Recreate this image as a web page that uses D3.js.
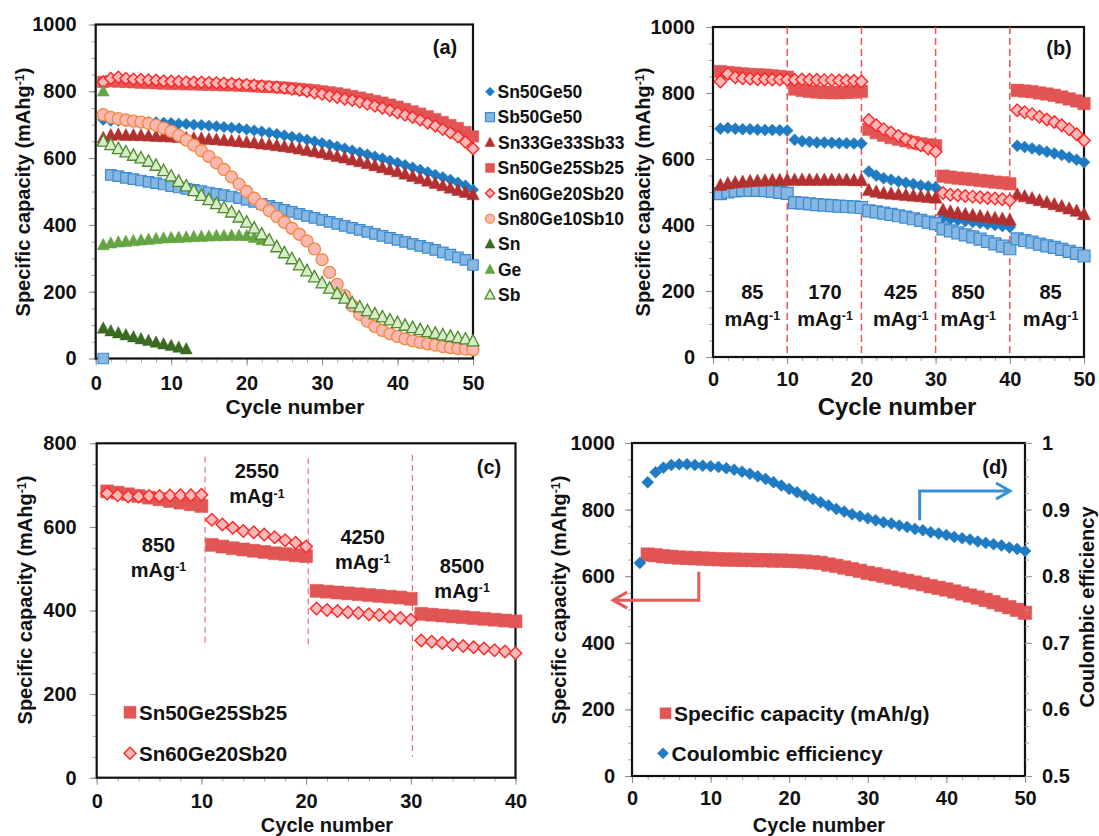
<!DOCTYPE html>
<html>
<head>
<meta charset="utf-8">
<script src="https://cdn.jsdelivr.net/npm/d3@7"></script>
<style>
  body { margin: 0; background: #fff; }
  svg text { font-family: Arial, "Liberation Sans", sans-serif; font-weight: bold; fill: #111; }
</style>
</head>
<body>
<svg id="fig" width="1099" height="836"></svg>
<script>
// ---------- data (index = cycle - 1) ----------
// panel (a): cycling at 85 mA/g
const a_Sn50Ge50 = [715, 712, 712, 711, 710, 709, 708, 707, 706, 705,
  703, 702, 700, 699, 697, 695, 693, 691, 689, 686,
  683, 680, 676, 672, 668, 664, 660, 655, 650, 645,
  640, 635, 629, 623, 617, 611, 605, 599, 592, 586,
  579, 572, 565, 558, 550, 543, 535, 527, 518, 505];
const a_Sb50Ge50 = [0, 550, 546, 541, 537, 533, 529, 525, 521, 516,
  512, 508, 505, 501, 497, 493, 489, 485, 480, 475,
  469, 463, 457, 451, 445, 439, 433, 427, 421, 415,
  409, 403, 397, 391, 385, 379, 373, 367, 361, 355,
  349, 343, 337, 331, 325, 318, 311, 303, 295, 280];
const a_Sn33Ge33Sb33 = [660, 668, 670, 668, 668, 667, 666, 665, 664, 663,
  662, 660, 659, 658, 656, 655, 653, 651, 649, 647,
  645, 642, 640, 637, 634, 631, 627, 623, 619, 615,
  610, 605, 600, 594, 589, 583, 577, 571, 565, 559,
  552, 545, 538, 531, 524, 517, 510, 503, 497, 490];
const a_Sn50Ge25Sb25 = [828, 830, 829, 828, 827, 826, 825, 824, 823, 822,
  822, 821, 821, 820, 820, 819, 818, 818, 817, 816,
  815, 814, 813, 812, 811, 809, 807, 805, 803, 800,
  797, 794, 790, 786, 781, 776, 771, 766, 760, 754,
  747, 740, 733, 725, 717, 708, 699, 690, 678, 665];
const a_Sn60Ge20Sb20 = [828, 838, 842, 838, 836, 835, 834, 833, 831, 830,
  829, 828, 827, 827, 826, 825, 824, 823, 821, 820,
  818, 816, 814, 812, 810, 807, 804, 800, 796, 792,
  787, 782, 777, 773, 768, 762, 756, 750, 743, 736,
  729, 722, 714, 705, 696, 686, 676, 664, 648, 628];
const a_Sn80Ge10Sb10 = [730, 722, 718, 714, 711, 708, 704, 698, 690, 680,
  668, 654, 639, 622, 605, 586, 566, 544, 522, 500,
  480, 461, 443, 425, 408, 390, 372, 352, 328, 296,
  258, 222, 188, 158, 132, 112, 96, 84, 74, 66,
  59, 53, 48, 44, 40, 36, 33, 30, 28, 26];
const a_Sn = [90, 82, 76, 70, 64, 58, 53, 48, 43, 38, 33, 28];
const a_GeFirst = [800];
const a_Ge = [340, 345, 348, 350, 352, 354, 356, 358, 360, 361,
  362, 363, 364, 365, 366, 367, 367, 368, 368, 367, 362, 355];
const a_Sb = [650, 640, 628, 618, 608, 600, 590, 578, 562, 546,
  530, 516, 502, 488, 475, 463, 451, 438, 423, 408,
  390, 372, 354, 334, 316, 298, 280, 262, 244, 226,
  210, 194, 180, 166, 154, 143, 133, 124, 115, 107,
  99, 92, 86, 80, 75, 70, 66, 62, 58, 52];

// panel (b): rate test
const b_Sn50Ge50 = [692, 694, 692, 690, 690, 689, 688, 688, 687, 686,
  658, 654, 652, 650, 650, 649, 648, 648, 647, 647,
  562, 550, 542, 537, 532, 528, 524, 520, 517, 514,
  422, 418, 415, 412, 409, 406, 403, 400, 397, 394,
  640, 636, 632, 627, 622, 617, 612, 605, 598, 590];
const b_Sb50Ge50 = [495, 500, 503, 505, 505, 505, 504, 502, 499, 496,
  468, 466, 464, 462, 460, 459, 457, 456, 455, 453,
  443, 440, 436, 432, 428, 424, 419, 414, 409, 404,
  388, 382, 376, 370, 364, 357, 350, 343, 336, 328,
  358, 353, 348, 342, 337, 332, 326, 320, 314, 306];
const b_Sn33Ge33Sb33 = [520, 525, 528, 530, 532, 533, 534, 535, 535, 536,
  536, 536, 536, 536, 536, 536, 536, 536, 535, 535,
  505, 500, 496, 494, 492, 490, 488, 486, 484, 482,
  445, 440, 436, 432, 429, 426, 423, 420, 418, 415,
  492, 486, 480, 474, 468, 462, 456, 449, 442, 432];
const b_Sn50Ge25Sb25 = [865, 862, 860, 858, 856, 855, 854, 852, 850, 848,
  812, 808, 805, 803, 802, 801, 801, 802, 803, 805,
  690, 680, 672, 665, 660, 655, 650, 646, 643, 640,
  548, 545, 542, 540, 538, 535, 533, 530, 528, 525,
  808, 806, 804, 800, 797, 793, 788, 782, 776, 768];
const b_Sn60Ge20Sb20 = [835, 858, 848, 845, 843, 842, 842, 841, 841, 840,
  840, 841, 840, 840, 839, 839, 838, 838, 837, 835,
  718, 702, 690, 680, 670, 660, 650, 642, 632, 622,
  497, 492, 490, 488, 486, 484, 482, 480, 478, 474,
  748, 742, 736, 728, 720, 712, 702, 690, 675, 656];
const b_breaks = [10, 20, 30, 40];
const b_rates = ['85', '170', '425', '850', '85'];
const b_rateAt = [5.3, 15.1, 25.3, 34.4, 45.5];

// panel (c): high rate test
const c_Sn50Ge25Sb25 = [685, 682, 678, 674, 670, 666, 662, 658, 654, 650,
  557, 553, 549, 546, 543, 540, 537, 535, 532, 530,
  447, 445, 443, 441, 439, 437, 435, 433, 431, 428,
  392, 390, 388, 386, 384, 382, 380, 378, 376, 374];
const c_Sn60Ge20Sb20 = [680, 676, 673, 673, 674, 674, 675, 676, 676, 677,
  617, 606, 598, 590, 587, 582, 575, 568, 562, 553,
  405, 401, 399, 396, 394, 391, 389, 385, 382, 378,
  328, 325, 322, 318, 315, 312, 309, 305, 302, 298];
const c_breaks = [10.35, 20.2, 30.15];
const c_breakTop = [768, 764, 772];
const c_breakBottom = [313, 309, 50];
const c_rates = ['850', '2550', '4250', '8500'];
const c_rateAt = [[5.9, 540], [15.3, 716], [25.4, 560], [34.9, 490]];

// panel (d): Sn50Ge25Sb25 long cycling
const d_capacity = [null, 665, 663, 660, 658, 656, 655, 654, 653, 652,
  651, 650, 650, 649, 649, 648, 648, 647, 647, 646,
  645, 644, 642, 640, 635, 631, 626, 621, 616, 610,
  606, 601, 596, 591, 586, 581, 576, 570, 565, 560,
  554, 548, 542, 536, 529, 522, 514, 507, 499, 490];
const d_efficiency = [0.82, 0.941, 0.956, 0.963, 0.967, 0.968, 0.968, 0.967, 0.966, 0.965,
  0.964, 0.962, 0.960, 0.957, 0.954, 0.950, 0.946, 0.941, 0.936, 0.931,
  0.926, 0.921, 0.916, 0.911, 0.906, 0.901, 0.897, 0.893, 0.890, 0.887,
  0.884, 0.881, 0.879, 0.876, 0.874, 0.871, 0.869, 0.866, 0.864, 0.862,
  0.859, 0.857, 0.855, 0.852, 0.850, 0.848, 0.846, 0.843, 0.841, 0.838];
const d_capArrow = [[8.5, 613], [8.5, 528], [-2.4, 528]];
const d_effArrow = [[36.6, 0.884], [36.6, 0.928], [48.1, 0.928]];

// ---------- styles ----------
const ST = {
  Sn50Ge50: { shape: 'diamond', fill: '#1f7bc3', stroke: '#1f7bc3', sw: 0.5 },
  Sb50Ge50: { shape: 'square', fill: '#86b6e2', stroke: '#3c8ad0', sw: 1.2 },
  Sn33Ge33Sb33: { shape: 'triangle', fill: '#b2302f', stroke: '#b2302f', sw: 0.5 },
  Sn50Ge25Sb25: { shape: 'square', fill: '#e25555', stroke: '#e25555', sw: 0.5 },
  Sn60Ge20Sb20: { shape: 'diamond', fill: '#f9b9b9', stroke: '#ff2525', sw: 1.4 },
  Sn80Ge10Sb10: { shape: 'circle', fill: '#fab8b2', stroke: '#f4873c', sw: 1.3 },
  Sn: { shape: 'triangle', fill: '#3b6b22', stroke: '#3b6b22', sw: 0.5 },
  Ge: { shape: 'triangle', fill: '#64a443', stroke: '#64a443', sw: 0.5 },
  Sb: { shape: 'triangle', fill: '#d8ecc8', stroke: '#4b8a2c', sw: 1.3 }
};

const shapes = {
  diamond: s => { const r = s / 2; return `M0,${-r}L${r},0L0,${r}L${-r},0Z`; },
  square: s => { const r = s / 2; return `M${-r},${-r}H${r}V${r}H${-r}Z`; },
  triangle: s => { const r = s / 2; return `M0,${-r * 1.1}L${r},${r * 0.8}L${-r},${r * 0.8}Z`; },
  circle: s => d3.symbol(d3.symbolCircle, Math.PI * s * s / 4)()
};

const svg = d3.select('#fig');

function supText(sel, base, sup, tail) {
  sel.append('tspan').text(base);
  sel.append('tspan').attr('dy', '-0.45em').attr('font-size', '0.62em').text(sup);
  if (tail) sel.append('tspan').attr('dy', '0.28em').text(tail);
}

function makePanel(c) {
  const g = svg.append('g');
  const x = d3.scaleLinear().domain(c.xDomain).range([c.left, c.right]);
  const y = d3.scaleLinear().domain(c.yDomain).range([c.bottom, c.top]);

  // minor ticks
  g.append('g').attr('transform', `translate(${c.left},0)`)
    .call(d3.axisLeft(y).tickValues(c.yMinor).tickSize(4).tickFormat(''))
    .call(s => s.select('.domain').remove())
    .selectAll('line').attr('stroke', '#a8a8a8');
  g.append('g').attr('transform', `translate(0,${c.bottom})`)
    .call(d3.axisBottom(x).tickValues(c.xMinor).tickSize(4).tickFormat(''))
    .call(s => s.select('.domain').remove())
    .selectAll('line').attr('stroke', '#a8a8a8');

  // major ticks + labels
  const ya = g.append('g').attr('transform', `translate(${c.left},0)`)
    .call(d3.axisLeft(y).tickValues(c.yTicks).tickSize(7).tickPadding(c.yPad).tickFormat(d => String(d)));
  const xa = g.append('g').attr('transform', `translate(0,${c.bottom})`)
    .call(d3.axisBottom(x).tickValues(c.xTicks).tickSize(7).tickPadding(c.xPad).tickFormat(d => String(d)));
  [ya, xa].forEach(a => {
    a.select('.domain').remove();
    a.selectAll('line').attr('stroke', '#8a8a8a');
    a.selectAll('text').attr('font-size', 20).attr('font-family', null).attr('fill', '#111');
  });

  g.append('rect')
    .attr('x', c.left).attr('y', c.top)
    .attr('width', c.right - c.left).attr('height', c.bottom - c.top)
    .attr('fill', 'none').attr('stroke', '#111').attr('stroke-width', 2.2);

  const layer = g.append('g');
  return { g, layer, x, y, c };
}

function drawSeries(p, vals, st, size, yScale) {
  const ys = yScale || p.y;
  const pts = vals.map((v, i) => [i + 1, v]).filter(d => d[1] != null);
  p.layer.append('g').selectAll('path').data(pts).join('path')
    .attr('d', shapes[st.shape](size))
    .attr('transform', d => `translate(${p.x(d[0])},${ys(d[1])})`)
    .attr('fill', st.fill).attr('stroke', st.stroke).attr('stroke-width', st.sw);
}

function yTitle(x, y, size) {
  const t = svg.append('text')
    .attr('transform', `translate(${x},${y}) rotate(-90)`)
    .attr('text-anchor', 'middle').attr('font-size', size);
  supText(t, 'Specific capacity (mAhg', '-1', ')');
  return t;
}

function xTitle(x, y, size) {
  svg.append('text').attr('x', x).attr('y', y)
    .attr('text-anchor', 'middle').attr('font-size', size).text('Cycle number');
}

function legendItem(x, y, st, size, label, fs) {
  svg.append('path').attr('d', shapes[st.shape](size))
    .attr('transform', `translate(${x},${y})`)
    .attr('fill', st.fill).attr('stroke', st.stroke).attr('stroke-width', st.sw);
  svg.append('text').attr('x', x + size / 2 + 3).attr('y', y).attr('dy', '0.36em')
    .attr('font-size', fs).text(label);
}

// ---------- panel (a) ----------
const pa = makePanel({
  left: 95.7, right: 473, top: 24.5, bottom: 358.5,
  xDomain: [0, 50], yDomain: [0, 1000],
  xTicks: [0, 10, 20, 30, 40, 50], xMinor: d3.range(0, 51, 2),
  yTicks: [0, 200, 400, 600, 800, 1000], yMinor: d3.range(0, 1001, 50),
  yPad: 12, xPad: 10
});
drawSeries(pa, a_Sn50Ge50, ST.Sn50Ge50, 11.5);
drawSeries(pa, a_Sb50Ge50, ST.Sb50Ge50, 10.5);
drawSeries(pa, a_Sn33Ge33Sb33, ST.Sn33Ge33Sb33, 12.5);
drawSeries(pa, a_Sn50Ge25Sb25, ST.Sn50Ge25Sb25, 11.5);
drawSeries(pa, a_Sn60Ge20Sb20, ST.Sn60Ge20Sb20, 12);
drawSeries(pa, a_Sn80Ge10Sb10, ST.Sn80Ge10Sb10, 12);
drawSeries(pa, a_Sn, ST.Sn, 12);
drawSeries(pa, a_GeFirst, ST.Ge, 12);
drawSeries(pa, a_Ge, ST.Ge, 12);
drawSeries(pa, a_Sb, ST.Sb, 12);
svg.append('text').attr('x', 445).attr('y', 54).attr('text-anchor', 'middle')
  .attr('font-size', 20).text('(a)');
yTitle(30, 192, 20);
xTitle(295, 414, 21);

const legendA = [
  ['Sn50Ge50', ST.Sn50Ge50, 9], ['Sb50Ge50', ST.Sb50Ge50, 9],
  ['Sn33Ge33Sb33', ST.Sn33Ge33Sb33, 10], ['Sn50Ge25Sb25', ST.Sn50Ge25Sb25, 9],
  ['Sn60Ge20Sb20', ST.Sn60Ge20Sb20, 9], ['Sn80Ge10Sb10', ST.Sn80Ge10Sb10, 9],
  ['Sn', ST.Sn, 10], ['Ge', ST.Ge, 10], ['Sb', ST.Sb, 10]
];
legendA.forEach((d, i) => legendItem(490, 91.7 + i * 25.4, d[1], d[2], d[0], 17.5));

// ---------- panel (b) ----------
const pb = makePanel({
  left: 713, right: 1084, top: 27, bottom: 357,
  xDomain: [0, 50], yDomain: [0, 1000],
  xTicks: [0, 10, 20, 30, 40, 50], xMinor: d3.range(0, 51, 2),
  yTicks: [0, 200, 400, 600, 800, 1000], yMinor: d3.range(0, 1001, 50),
  yPad: 11, xPad: 8
});
pb.layer.selectAll('line.brk').data(b_breaks).join('line')
  .attr('x1', d => pb.x(d)).attr('x2', d => pb.x(d))
  .attr('y1', pb.y(1000)).attr('y2', pb.y(0))
  .attr('stroke', '#e8555a').attr('stroke-width', 1.5).attr('stroke-dasharray', '7,4');
drawSeries(pb, b_Sn50Ge50, ST.Sn50Ge50, 12);
drawSeries(pb, b_Sb50Ge50, ST.Sb50Ge50, 12);
drawSeries(pb, b_Sn33Ge33Sb33, ST.Sn33Ge33Sb33, 13);
drawSeries(pb, b_Sn50Ge25Sb25, ST.Sn50Ge25Sb25, 12.5);
drawSeries(pb, b_Sn60Ge20Sb20, ST.Sn60Ge20Sb20, 12.5);
b_rates.forEach((r, i) => {
  const cx = pb.x(b_rateAt[i]);
  svg.append('text').attr('x', cx).attr('y', 299).attr('text-anchor', 'middle')
    .attr('font-size', 20).text(r);
  const t = svg.append('text').attr('x', cx).attr('y', 326).attr('text-anchor', 'middle')
    .attr('font-size', 20);
  supText(t, 'mAg', '-1');
});
svg.append('text').attr('x', 1059).attr('y', 55).attr('text-anchor', 'middle')
  .attr('font-size', 20).text('(b)');
yTitle(650, 192, 20);
xTitle(897, 415, 24);

// ---------- panel (c) ----------
const pc = makePanel({
  left: 96.7, right: 515.5, top: 443.3, bottom: 777.7,
  xDomain: [0, 40], yDomain: [0, 800],
  xTicks: [0, 10, 20, 30, 40], xMinor: d3.range(0, 41, 2),
  yTicks: [0, 200, 400, 600, 800], yMinor: d3.range(0, 801, 50),
  yPad: 13, xPad: 9
});
pc.layer.selectAll('line.brk').data(c_breaks).join('line')
  .attr('x1', d => pc.x(d)).attr('x2', d => pc.x(d))
  .attr('y1', (d, i) => pc.y(c_breakTop[i])).attr('y2', (d, i) => pc.y(c_breakBottom[i]))
  .attr('stroke', '#e8555a').attr('stroke-width', 1).attr('stroke-dasharray', '6,4');
drawSeries(pc, c_Sn50Ge25Sb25, ST.Sn50Ge25Sb25, 13);
drawSeries(pc, c_Sn60Ge20Sb20, ST.Sn60Ge20Sb20, 12.5);
c_rates.forEach((r, i) => {
  const cx = pc.x(c_rateAt[i][0]);
  const cy = pc.y(c_rateAt[i][1]);
  svg.append('text').attr('x', cx).attr('y', cy).attr('text-anchor', 'middle')
    .attr('font-size', 20).text(r);
  const t = svg.append('text').attr('x', cx).attr('y', cy + 25).attr('text-anchor', 'middle')
    .attr('font-size', 20);
  supText(t, 'mAg', '-1');
});
svg.append('text').attr('x', 489).attr('y', 474).attr('text-anchor', 'middle')
  .attr('font-size', 20).text('(c)');
yTitle(32, 600, 20);
xTitle(327, 831.5, 20);
legendItem(130, 712.3, ST.Sn50Ge25Sb25, 12, 'Sn50Ge25Sb25', 20.5);
legendItem(130, 753.3, ST.Sn60Ge20Sb20, 12, 'Sn60Ge20Sb20', 20.5);

// ---------- panel (d) ----------
const pd = makePanel({
  left: 632, right: 1025, top: 443, bottom: 776,
  xDomain: [0, 50], yDomain: [0, 1000],
  xTicks: [0, 10, 20, 30, 40, 50], xMinor: d3.range(0, 51, 2),
  yTicks: [0, 200, 400, 600, 800, 1000], yMinor: d3.range(0, 1001, 50),
  yPad: 10, xPad: 8
});
const yR = d3.scaleLinear().domain([0.5, 1]).range([776, 443]);
const ra = svg.append('g').attr('transform', 'translate(1025,0)')
  .call(d3.axisRight(yR).tickValues([0.5, 0.6, 0.7, 0.8, 0.9, 1]).tickSize(7).tickPadding(10)
    .tickFormat(d => String(+d.toFixed(1))));
ra.select('.domain').remove();
ra.selectAll('line').attr('stroke', '#8a8a8a');
ra.selectAll('text').attr('font-size', 20).attr('font-family', null).attr('fill', '#111');
svg.append('g').attr('transform', 'translate(1025,0)')
  .call(d3.axisRight(yR).tickValues(d3.range(0.5, 1.001, 0.025)).tickSize(4).tickFormat(''))
  .call(s => s.select('.domain').remove())
  .selectAll('line').attr('stroke', '#a8a8a8');

drawSeries(pd, d_capacity, ST.Sn50Ge25Sb25, 13.5);
drawSeries(pd, d_efficiency, ST.Sn50Ge50, 12, yR);

const defs = svg.append('defs');
[['arrRed', '#e65a5a'], ['arrBlue', '#3a8fd2']].forEach(([id, col]) => {
  defs.append('marker').attr('id', id).attr('viewBox', '0 0 20 20')
    .attr('refX', 17).attr('refY', 10).attr('markerWidth', 20).attr('markerHeight', 20)
    .attr('markerUnits', 'userSpaceOnUse').attr('orient', 'auto')
    .append('path').attr('d', 'M3,2L17,10L3,18').attr('fill', 'none')
    .attr('stroke', col).attr('stroke-width', 3);
});
const capLine = d3.line().x(d => pd.x(d[0])).y(d => pd.y(d[1]));
const effLine = d3.line().x(d => pd.x(d[0])).y(d => yR(d[1]));
svg.append('path').attr('d', capLine(d_capArrow)).attr('fill', 'none')
  .attr('stroke', '#e65a5a').attr('stroke-width', 3).attr('marker-end', 'url(#arrRed)');
svg.append('path').attr('d', effLine(d_effArrow)).attr('fill', 'none')
  .attr('stroke', '#3a8fd2').attr('stroke-width', 3).attr('marker-end', 'url(#arrBlue)');

svg.append('text').attr('x', 995).attr('y', 474).attr('text-anchor', 'middle')
  .attr('font-size', 20).text('(d)');
yTitle(566, 600, 20);
xTitle(819, 831.5, 20);
svg.append('text')
  .attr('transform', 'translate(1094,607) rotate(-90)')
  .attr('text-anchor', 'middle').attr('font-size', 20).text('Coulombic efficiency');
legendItem(665.5, 713.3, ST.Sn50Ge25Sb25, 11, 'Specific capacity (mAh/g)', 21);
legendItem(663, 753.3, ST.Sn50Ge50, 11, 'Coulombic efficiency', 21);
</script>
</body>
</html>
